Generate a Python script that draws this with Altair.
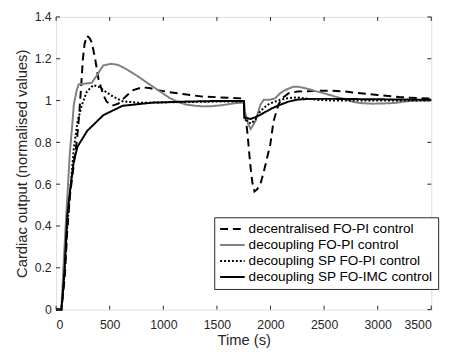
import altair as alt
import pandas as pd

# ---- data ----
series_names = [
    "decentralised FO-PI control",
    "decoupling FO-PI control",
    "decoupling SP FO-PI control",
    "decoupling SP FO-IMC control",
]

t_decentral = [0, 49, 80, 104, 130, 171, 196, 215, 235, 250, 265, 287, 310, 333, 364, 394, 440, 470,
               520, 580, 650, 720, 800, 870, 950, 1060, 1200, 1350, 1500, 1650, 1752, 1756, 1784, 1810,
               1830, 1850, 1875, 1906, 1952, 1998, 2028, 2074, 2105, 2170, 2250, 2350, 2450, 2580, 2700,
               2800, 2900, 3000, 3100, 3200, 3300, 3400, 3500]
v_decentral = [0, 0, 0.15, 0.38, 0.55, 0.72, 0.82, 0.93, 1.08, 1.2, 1.27, 1.31, 1.3, 1.278, 1.2, 1.105,
               1.027, 0.996, 0.975, 0.985, 1.02, 1.05, 1.063, 1.06, 1.05, 1.04, 1.03, 1.02, 1.016, 1.012,
               1.01, 0.96, 0.85, 0.7, 0.61, 0.565, 0.575, 0.6, 0.69, 0.79, 0.9, 0.98, 1.01, 1.035, 1.043,
               1.045, 1.047, 1.047, 1.043, 1.037, 1.032, 1.027, 1.022, 1.017, 1.014, 1.011, 1.01]

t_decoup = [0, 49, 73, 100, 128, 150, 165, 192, 211, 260, 333, 379, 440, 516, 580, 650, 750, 850, 950,
            1063, 1150, 1219, 1300, 1373, 1450, 1550, 1677, 1752, 1760, 1790, 1815, 1860, 1906, 1937,
            1998, 2044, 2090, 2135, 2211, 2260, 2334, 2420, 2530, 2610, 2686, 2760, 2838, 2950, 3050,
            3145, 3220, 3296, 3400, 3500]
v_decoup = [0, 0, 0.25, 0.5, 0.75, 0.88, 0.98, 1.05, 1.078, 1.08, 1.085, 1.12, 1.168, 1.176, 1.17,
            1.152, 1.12, 1.085, 1.05, 1.011, 0.99, 0.98, 0.975, 0.972, 0.973, 0.978, 0.988, 0.99, 0.95,
            0.89, 0.863, 0.902, 0.98, 1.004, 1.004, 1.011, 1.035, 1.05, 1.066, 1.066, 1.058, 1.045,
            1.03, 1.018, 1.008, 0.995, 0.988, 0.985, 0.986, 0.988, 0.993, 0.998, 1.0, 1.0]

t_sp_pi = [0, 49, 80, 104, 130, 165, 200, 241, 287, 348, 400, 440, 531, 623, 760, 900, 1200, 1500,
           1752, 1756, 1790, 1820, 1860, 1900, 1937, 1990, 2090, 2170, 2242, 2330, 2450, 2600, 3000, 3500]
v_sp_pi = [0, 0, 0.18, 0.4, 0.56, 0.77, 0.9, 0.98, 1.043, 1.074, 1.065, 1.05, 1.019, 0.996, 0.99, 0.99,
           0.993, 0.995, 0.995, 0.93, 0.895, 0.89, 0.91, 0.945, 0.965, 0.985, 1.004, 1.012, 1.015, 1.01,
           1.003, 1.0, 1.0, 1.0]

t_sp_imc = [0, 49, 65, 80, 104, 130, 165, 200, 290, 440, 620, 900, 1200, 1500, 1752, 1755, 1815, 1880,
            1937, 2010, 2090, 2170, 2242, 2350, 2600, 3000, 3500]
v_sp_imc = [0, 0, 0.09, 0.2, 0.45, 0.57, 0.71, 0.78, 0.855, 0.93, 0.975, 0.99, 0.995, 0.998, 0.998,
            0.918, 0.912, 0.925, 0.941, 0.962, 0.98, 0.995, 1.004, 1.008, 1.008, 1.006, 1.004]

x_ticks = [0, 500, 1000, 1500, 2000, 2500, 3000, 3500]
y_ticks = [0, 0.2, 0.4, 0.6, 0.8, 1.0, 1.2, 1.4]

# ---- build long table ----
rows = []
for name, ts, vs in zip(series_names,
                        [t_decentral, t_decoup, t_sp_pi, t_sp_imc],
                        [v_decentral, v_decoup, v_sp_pi, v_sp_imc]):
    for t, v in zip(ts, vs):
        rows.append({"series": name, "t": t, "v": v})
df = pd.DataFrame(rows)

W, H = 382, 298
FONT = "Liberation Sans"
AXC = "#262626"

xscale = alt.Scale(domain=[0, 3500], nice=False)
yscale = alt.Scale(domain=[0, 1.4], nice=False)

lines = alt.Chart(df).mark_line().encode(
    x=alt.X("t:Q", scale=xscale,
            axis=alt.Axis(title="Time (s)", values=x_ticks, format="d", grid=False, domain=False,
                          ticks=False, tickSize=0, labelPadding=9, titlePadding=2,
                          labelFontSize=12.5, titleFontSize=15, labelColor=AXC, titleColor=AXC,
                          labelFont=FONT, titleFont=FONT, titleFontWeight="normal")),
    y=alt.Y("v:Q", scale=yscale,
            axis=alt.Axis(title="Cardiac output (normalised values)", values=y_ticks, format="~g",
                          grid=False, domain=False, ticks=False, tickSize=0, labelPadding=5,
                          titlePadding=5, labelFontSize=12.5, titleFontSize=15, labelColor=AXC,
                          titleColor=AXC, labelFont=FONT, titleFont=FONT,
                          titleFontWeight="normal")),
    color=alt.Color("series:N",
                    scale=alt.Scale(domain=series_names,
                                    range=["#000000", "#808080", "#000000", "#000000"]),
                    legend=alt.Legend(title=None, orient="none", legendX=161, legendY=204,
                                      direction="vertical", symbolType="stroke", symbolSize=625,
                                      clipHeight=14, rowPadding=2.3, labelOffset=3, padding=5,
                                      labelFontSize=13.8, labelFont=FONT, labelColor="#000000",
                                      labelLimit=400, strokeColor=AXC, fillColor="white")),
    strokeDash=alt.StrokeDash("series:N",
                              scale=alt.Scale(domain=series_names,
                                              range=[[8, 5], [1, 0], [2, 2], [1, 0]]),
                              legend=alt.Legend(title=None)),
    strokeWidth=alt.StrokeWidth("series:N",
                                scale=alt.Scale(domain=series_names, range=[2, 2, 2, 2.6]),
                                legend=alt.Legend(title=None)),
    order=alt.Order("t:Q"),
)

xt = pd.DataFrame({"tx": x_ticks})
yt = pd.DataFrame({"ty": y_ticks})

bottom_ticks = alt.Chart(xt).mark_rule(color=AXC, strokeWidth=1).encode(
    x=alt.X("tx:Q", scale=xscale), y=alt.value(H), y2=alt.value(H - 4))
top_ticks = alt.Chart(xt).mark_rule(color=AXC, strokeWidth=1).encode(
    x=alt.X("tx:Q", scale=xscale), y=alt.value(0), y2=alt.value(4))
left_ticks = alt.Chart(yt).mark_rule(color=AXC, strokeWidth=1).encode(
    y=alt.Y("ty:Q", scale=yscale), x=alt.value(0), x2=alt.value(4))
right_ticks = alt.Chart(yt).mark_rule(color=AXC, strokeWidth=1).encode(
    y=alt.Y("ty:Q", scale=yscale), x=alt.value(W), x2=alt.value(W - 4))

chart = alt.layer(lines, bottom_ticks, top_ticks, left_ticks, right_ticks).properties(
    width=W, height=H,
    autosize=alt.AutoSizeParams(type="none"),
    padding={"left": 49, "top": 6, "right": 16, "bottom": 36},
).configure_view(stroke=AXC, strokeWidth=1).configure(background="white")

chart.save("out.html", embed_options={"renderer": "svg", "actions": False})
